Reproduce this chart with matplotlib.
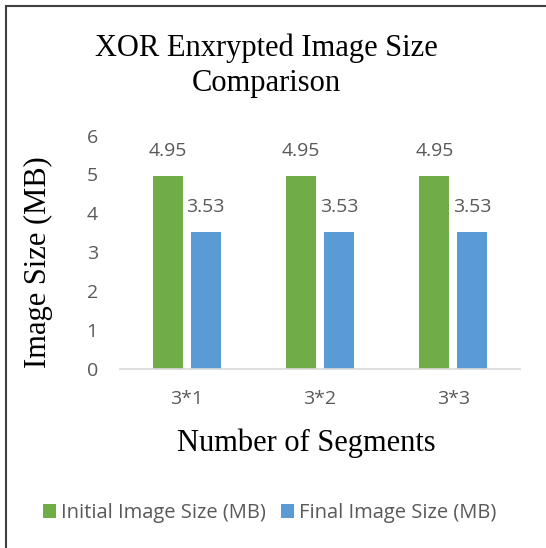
import matplotlib
matplotlib.use("Agg")
import matplotlib.pyplot as plt
import numpy as np
from matplotlib.patches import Rectangle

# dados
segmentos = ['3*1', '3*2', '3*3']
tamanho_inicial = [4.95, 4.95, 4.95]
tamanho_final = [3.53, 3.53, 3.53]
rotulos_y = [0, 1, 2, 3, 4, 5, 6]

verde = '#70AD47'
azul = '#5B9BD5'
cinza = '#595959'
serif = 'Liberation Serif'
sans = 'Open Sans'
tam = 14

fig = plt.figure(figsize=(5.46, 5.48), dpi=100)
ax = fig.add_axes([0.2198, 0.3266, 0.7326, 0.4261])

# moldura do gráfico (só topo e esquerda aparecem)
fig.patches.append(Rectangle((6 / 546, -0.1), 1.2, 1 - 6 / 548 + 0.1,
                             transform=fig.transFigure, fill=False,
                             edgecolor='#404040', linewidth=1.5))

x = np.arange(len(segmentos))
largura = 0.225
desloc = 0.1425
b1 = ax.bar(x - desloc, tamanho_inicial, largura, color=verde,
            label='Initial Image Size (MB)')
b2 = ax.bar(x + desloc, tamanho_final, largura, color=azul,
            label='Final Image Size (MB)')

for barras in (b1, b2):
    for r in barras:
        ax.annotate('%.2f' % r.get_height(),
                    (r.get_x() + r.get_width() / 2, r.get_height()),
                    xytext=(0, 18), textcoords='offset points',
                    ha='center', va='center', fontsize=tam,
                    color=cinza, family=sans)

ax.set_xlim(-0.5, 2.5)
ax.set_ylim(0, 6)
ax.set_xticks(x)
ax.set_xticklabels(segmentos, family=sans, fontsize=tam, color=cinza)
ax.set_yticks(rotulos_y)
ax.set_yticklabels([str(v) for v in rotulos_y], family=sans,
                   fontsize=tam, color=cinza)
ax.tick_params(axis='both', length=0)
ax.tick_params(axis='x', pad=15)
ax.tick_params(axis='y', pad=16)

for lado in ('top', 'right', 'left'):
    ax.spines[lado].set_visible(False)
ax.spines['bottom'].set_color('#D9D9D9')
ax.spines['bottom'].set_linewidth(1.2)

ax.set_xlabel('Number of Segments', family=serif, fontsize=22, va='center')
ax.xaxis.set_label_coords(0.465, -0.318)
ax.set_ylabel('Image Size (MB)', family=serif, fontsize=22, va='center')
ax.yaxis.set_label_coords(-0.205, 0.458)

fig.text(266 / 546, 1 - 48 / 548, 'XOR Enxrypted Image Size',
         ha='center', va='center', family=serif, fontsize=22)
fig.text(266 / 546, 1 - 83 / 548, 'Comparison',
         ha='center', va='center', family=serif, fontsize=22)

ax.legend(loc='center', bbox_to_anchor=(270 / 546, 1 - 513 / 548),
          bbox_transform=fig.transFigure, ncol=2, frameon=False,
          prop={'family': sans, 'size': 14.5}, labelcolor=cinza,
          handlelength=0.65, handleheight=0.65, handletextpad=0.25,
          columnspacing=0.75)

fig.savefig('out.png', dpi=100)
